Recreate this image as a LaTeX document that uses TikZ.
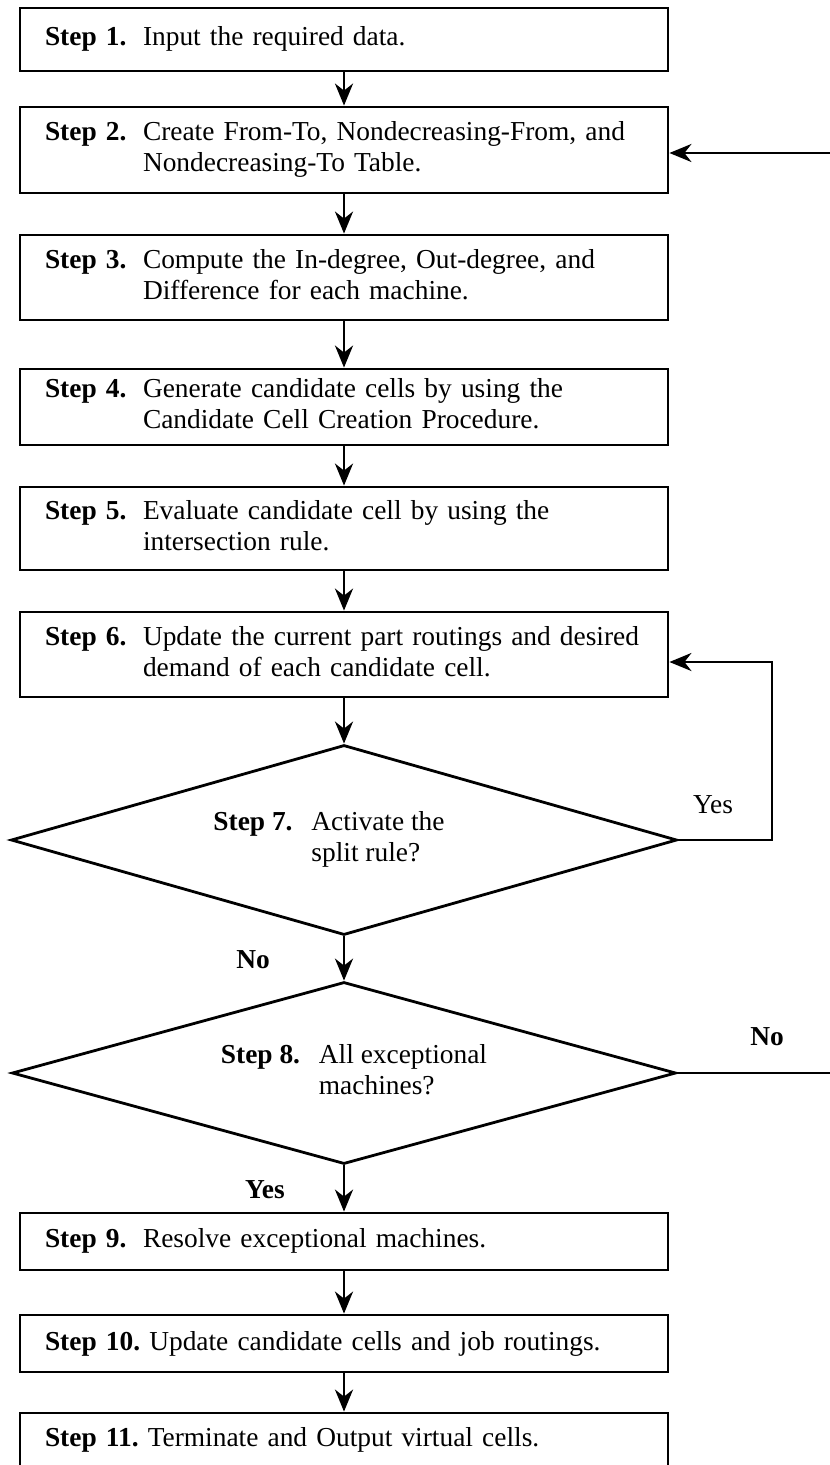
\documentclass[tikz,border=0pt]{standalone}
\usepackage{fontspec}
\setmainfont{Liberation Serif}
\usetikzlibrary{shapes.geometric,arrows.meta}

% text set in the step boxes and decisions
\newcommand{\stepfont}{\fontsize{13.7pt}{15.5pt}\selectfont\frenchspacing}
\newcommand{\answerfont}{\fontsize{13.7pt}{15.5pt}\selectfont}
% bold step number in a fixed column, description beside it
\newcommand{\steplabel}[2]{\begin{tabular}{@{}p{49pt}@{}l@{}}\textbf{#1} & #2\end{tabular}}

\tikzset{
  stepbox/.style={draw, line width=1.4pt, rectangle, minimum width=324pt,
    text width=299pt, inner xsep=12.5pt, inner ysep=0pt, align=left, font=\stepfont},
  decision/.style={draw, line width=1.4pt, diamond, aspect=3.5, inner sep=0pt,
    font=\stepfont},
  flow/.style={line width=1.4pt, -{Stealth[length=11pt,width=9pt,inset=3.5pt]}},
  answer/.style={font=\answerfont, inner sep=0pt},
}

\begin{document}
\begin{tikzpicture}[x=0.5pt, y=-0.5pt]
\useasboundingbox (0,0) rectangle (829,1465);

% process steps
\node[stepbox, minimum height=31.5pt] (s1) at (344,39.5)
  {\steplabel{Step 1.}{Input the required data.}};
\node[stepbox, minimum height=43pt] (s2) at (344,150)
  {\steplabel{Step 2.}{Create From-To, Nondecreasing-From, and\\ & Nondecreasing-To Table.}};
\node[stepbox, minimum height=42.5pt] (s3) at (344,277.5)
  {\steplabel{Step 3.}{Compute the In-degree, Out-degree, and\\ & Difference for each machine.}};
\node[stepbox, minimum height=38pt] (s4) at (344,407)
  {\steplabel{Step 4.}{Generate candidate cells by using the\\ & Candidate Cell Creation Procedure.}};
\node[stepbox, minimum height=41.5pt] (s5) at (344,528.5)
  {\steplabel{Step 5.}{Evaluate candidate cell by using the\\ & intersection rule.}};
\node[stepbox, minimum height=42.5pt] (s6) at (344,654.5)
  {\steplabel{Step 6.}{Update the current part routings and desired\\ & demand of each candidate cell.}};

% decisions
\node[decision, minimum width=333pt, minimum height=95pt] (d7) at (344,840)
  {\steplabel{Step 7.}{Activate the\\ & split rule?}\hspace*{15pt}};
\node[decision, minimum width=332pt, minimum height=91pt] (d8) at (344,1073)
  {\hspace*{10pt}\steplabel{Step 8.}{All exceptional\\ & machines?}};

% closing steps
\node[stepbox, minimum height=28.5pt] (s9) at (344,1241.5)
  {\steplabel{Step 9.}{Resolve exceptional machines.}};
\node[stepbox, minimum height=28.5pt] (s10) at (344,1343.5)
  {\textbf{Step 10.}\ Update candidate cells and job routings.};
\node[stepbox, minimum height=26.5pt] (s11) at (344,1439.5)
  {\textbf{Step 11.}\ Terminate and Output virtual cells.};

% main sequence
\draw[flow] (s1) -- (s2);
\draw[flow] (s2) -- (s3);
\draw[flow] (s3) -- (s4);
\draw[flow] (s4) -- (s5);
\draw[flow] (s5) -- (s6);
\draw[flow] (s6) -- (d7);
\draw[flow] (d7) -- (d8);
\draw[flow] (d8) -- (s9);
\draw[flow] (s9) -- (s10);
\draw[flow] (s10) -- (s11);

% split rule loop back to step 6
\coordinate (yesloop) at (772,662);
\draw[flow] (d7.east) -| (yesloop) -- (yesloop -| s6.east);

% return to step 2 while exceptional machines remain
\coordinate (noloop) at (836,153);
\draw[flow] (d8.east) -| (noloop) -- (noloop -| s2.east);

% branch labels
\node[answer] (yes7) at (713,805) {Yes};
\node[answer, font=\answerfont\bfseries] (no7) at (253,960) {No};
\node[answer, font=\answerfont\bfseries] (no8) at (767,1037) {No};
\node[answer, font=\answerfont\bfseries] (yes8) at (265,1190) {Yes};
\end{tikzpicture}
\end{document}
